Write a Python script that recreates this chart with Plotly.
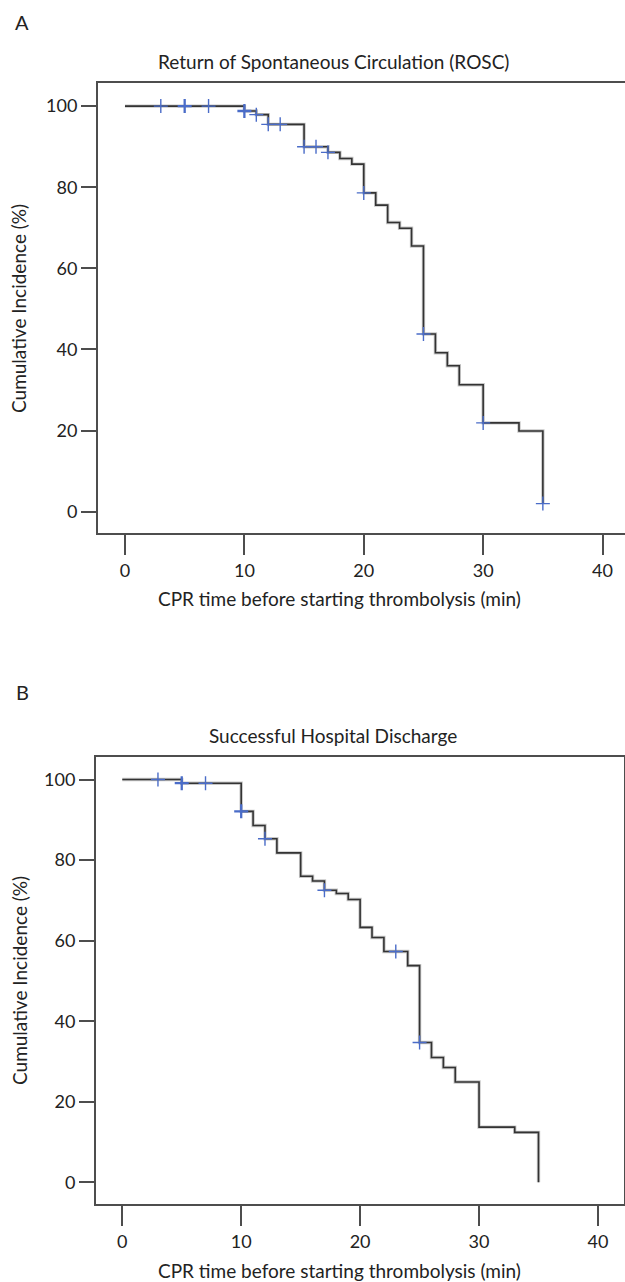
import plotly.graph_objects as go

# ---- Panel A: Return of Spontaneous Circulation (ROSC) ----
a_time = [0, 10, 11, 12, 15, 17, 18, 19, 20, 21, 22, 23, 24, 25, 26, 27, 28, 30, 33, 35]
a_value = [100, 98.8, 97.9, 95.5, 90.0, 88.6, 87.1, 85.7, 78.6, 75.6, 71.3, 69.9, 65.5,
           43.8, 39.2, 36.0, 31.3, 21.9, 19.9, 2.0]
a_cens_time = [3, 5, 7, 10, 11, 12, 13, 15, 16, 17, 20, 25, 30, 35]
a_cens_value = [100, 100, 100, 98.8, 97.9, 95.5, 95.5, 90.0, 90.0, 88.6, 78.6, 43.8, 21.9, 2.0]
a_cens_count = [1, 2, 1, 2, 1, 1, 1, 1, 1, 1, 1, 1, 1, 1]

# ---- Panel B: Successful Hospital Discharge ----
b_time = [0, 5, 10, 11, 12, 13, 15, 16, 17, 18, 19, 20, 21, 22, 24, 25, 26, 27, 28, 30, 33, 35]
b_value = [100, 99.1, 92.1, 88.6, 85.3, 81.8, 76.0, 74.8, 72.5, 71.7, 70.2, 63.3, 60.8, 57.3,
           53.8, 34.7, 31.0, 28.5, 24.9, 13.7, 12.4, 0]
b_cens_time = [3, 5, 7, 10, 12, 17, 23, 25]
b_cens_value = [100, 99.1, 99.1, 92.1, 85.3, 72.5, 57.3, 34.7]
b_cens_count = [1, 2, 1, 2, 1, 1, 1, 1]

x_ticks = [0, 10, 20, 30, 40]
y_ticks = [0, 20, 40, 60, 80, 100]

W, H = 625, 1282
FONT = "Lato"
LINE_COL = "#333333"
CENS_COL = "#4a6cc8"
AXIS_COL = "#4d4d4d"

fig = go.Figure()

def add_panel(t, v, ct, cv, cc, xa, ya):
    fig.add_trace(go.Scatter(x=t, y=v, mode="lines", line_shape="hv",
                             line=dict(color="rgba(0,0,0,0.22)", width=3.4),
                             xaxis=xa, yaxis=ya, hoverinfo="skip", showlegend=False))
    fig.add_trace(go.Scatter(x=t, y=v, mode="lines", line_shape="hv",
                             line=dict(color=LINE_COL, width=1.6),
                             xaxis=xa, yaxis=ya, showlegend=False))
    fig.add_trace(go.Scatter(x=ct, y=cv, mode="markers",
                             marker=dict(symbol="cross-thin", size=10,
                                         line=dict(color=CENS_COL,
                                                   width=[1.4 + 0.9 * (c - 1) for c in cc])),
                             xaxis=xa, yaxis=ya, showlegend=False))

add_panel(a_time, a_value, a_cens_time, a_cens_value, a_cens_count, "x", "y")
add_panel(b_time, b_value, b_cens_time, b_cens_value, b_cens_count, "x2", "y2")

def px_x(p):
    return p / W

def px_y(p):
    return 1 - p / H

tickfont = dict(family=FONT, size=18, color="#222222")
common_x = dict(tickvals=x_ticks, ticks="outside", ticklen=20, tickwidth=1.6, tickcolor=AXIS_COL,
                showline=True, linecolor=AXIS_COL, linewidth=2, showgrid=False, zeroline=False,
                tickfont=tickfont, fixedrange=True)
common_y = dict(tickvals=y_ticks, ticks="outside", ticklen=15, tickwidth=1.6, tickcolor=AXIS_COL,
                showline=True, linecolor=AXIS_COL, linewidth=2, showgrid=False, zeroline=False,
                tickfont=tickfont, fixedrange=True)

fig.update_layout(
    xaxis=dict(domain=[px_x(98), 1.0], range=[-2.26, 41.88], anchor="y", mirror=True, **common_x),
    yaxis=dict(domain=[px_y(533), px_y(83)], range=[-5.25, 105.7], anchor="x", mirror=False, **common_y),
    xaxis2=dict(domain=[px_x(96), px_x(624)], range=[-2.21, 42.19], anchor="y2", mirror=True, **common_x),
    yaxis2=dict(domain=[px_y(1204), px_y(757)], range=[-5.39, 105.6], anchor="x2", mirror=True, **common_y),
)

txt = dict(family=FONT, size=19, color="#222222")
ann = []

def add_text(text, x, y, font, angle=0):
    ann.append(dict(text=text, x=px_x(x), y=px_y(y), xref="paper", yref="paper",
                    xanchor="center", yanchor="middle", showarrow=False, font=font,
                    textangle=angle))

add_text("A", 22, 22, dict(family=FONT, size=20, color="#222222"))
add_text("B", 22, 692, dict(family=FONT, size=20, color="#222222"))
add_text("Return of Spontaneous Circulation (ROSC)", 333, 61, txt)
add_text("Successful Hospital Discharge", 333, 735, txt)
for yy in (598, 1270):
    add_text("CPR time before starting thrombolysis (min)", 339, yy, txt)
for yy in (309, 981):
    add_text("Cumulative Incidence (%)", 19, yy, txt, angle=-90)

fig.update_layout(width=W, height=H, margin=dict(l=0, r=0, t=0, b=0),
                  paper_bgcolor="white", plot_bgcolor="white", annotations=ann,
                  showlegend=False)

fig.write_html("out.html", config={"displayModeBar": False},
               post_script="document.body.style.margin='0';document.body.style.padding='0';"
                           "document.documentElement.style.overflow='hidden';")
